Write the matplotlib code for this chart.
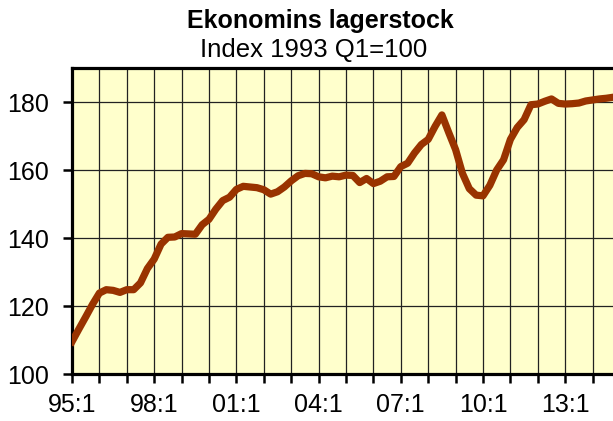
import numpy as np
import matplotlib
matplotlib.use("Agg")
import matplotlib.pyplot as plt

plt.rcParams['font.family'] = ['Liberation Sans', 'DejaVu Sans']

# Kvartalsdata 1995:1 - 2014:4, index 1993 Q1=100
quarters = [f"{(95 + i // 4) % 100:02d}:{i % 4 + 1}" for i in range(80)]
lagerstock = [
    109.5, 113.2, 116.8, 120.5, 123.8, 124.8, 124.6, 124.0,
    124.8, 124.8, 126.8, 131.0, 133.8, 138.2, 140.2, 140.3,
    141.3, 141.2, 141.1, 143.9, 145.5, 148.5, 151.0, 152.0,
    154.3, 155.2, 155.0, 154.8, 154.2, 152.9, 153.6, 155.0,
    156.8, 158.3, 159.0, 158.9, 158.0, 157.7, 158.2, 158.0,
    158.5, 158.4, 156.3, 157.5, 156.0, 156.7, 158.0, 158.1,
    161.0, 162.0, 165.0, 167.5, 169.0, 172.8, 176.2, 171.0,
    166.0, 159.0, 154.5, 152.6, 152.4, 155.5, 160.0, 163.0,
    169.0, 172.5, 174.8, 179.2, 179.4, 180.2, 180.9, 179.6,
    179.4, 179.5, 179.7, 180.3, 180.6, 180.9, 181.1, 181.4,
]
yticks = [100, 120, 140, 160, 180]

fig = plt.figure(figsize=(6.13, 4.21), dpi=100)
ax = fig.add_axes([72 / 613, 1 - 374 / 421, 548 / 613, 306 / 421])
ax.set_facecolor('#FFFFCC')

x = np.arange(len(lagerstock))
ax.plot(x, lagerstock, color='#993300', linewidth=5.2, solid_joinstyle='round', zorder=3)

ax.set_xlim(0, 80)
ax.set_ylim(100, 190)
ax.set_yticks(yticks)
ax.set_xticks(x[::4])
ax.set_xticklabels([q if i % 12 == 0 else '' for i, q in enumerate(quarters)][::4])

ax.grid(True, color='#222222', linewidth=0.9)
ax.set_axisbelow(True)
for s in ax.spines.values():
    s.set_linewidth(2.3)
ax.tick_params(direction='out', length=6.5, width=1.8, labelsize=18)
ax.tick_params(axis='y', pad=10)
ax.tick_params(axis='x', pad=7)

fig.text(0.522, 1 - 21 / 421, 'Ekonomins lagerstock', ha='center', va='center',
         fontsize=18, fontweight='bold')
fig.text(0.512, 1 - 50 / 421, 'Index 1993 Q1=100', ha='center', va='center', fontsize=18.5)

fig.savefig('out.png', dpi=100)
